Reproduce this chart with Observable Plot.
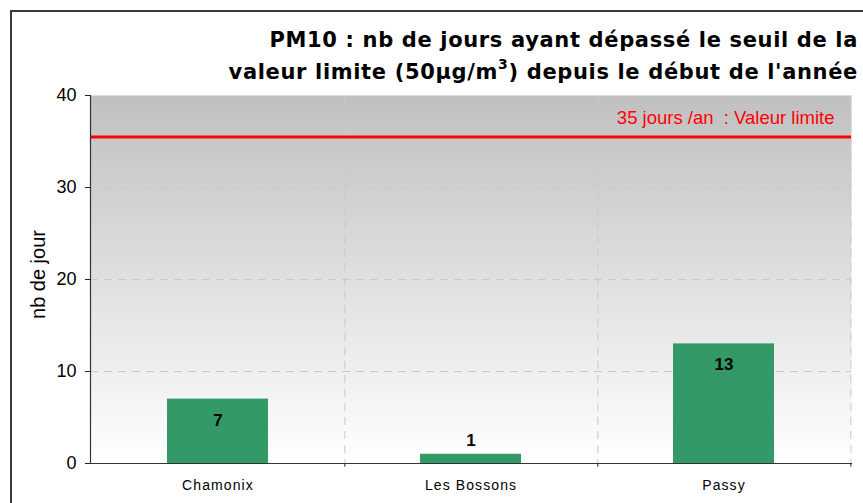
<!DOCTYPE html>
<html>
<head>
<meta charset="utf-8">
<script src="https://cdn.jsdelivr.net/npm/d3@7"></script>
<script src="https://cdn.jsdelivr.net/npm/@observablehq/plot@0.6"></script>
<style>
  html, body { margin: 0; padding: 0; background: #fff; }
  #wrap { position: relative; width: 863px; height: 503px; overflow: hidden; }
  #frame { position: absolute; left: 10px; top: 10px; width: 900px; height: 600px;
           border-left: 2px solid #3a3a3a; border-top: 2px solid #3a3a3a; box-sizing: border-box; }
  #title { position: absolute; right: 5px; top: 24px; text-align: right;
           font-family: "DejaVu Sans", sans-serif; font-weight: bold; letter-spacing: 0.65px;
           font-size: 21px; line-height: 32px; color: #000; white-space: nowrap; }
  #title sup { font-size: 14px; line-height: 0; vertical-align: 10px; }
  #chart { position: absolute; left: 0; top: 0; }
</style>
</head>
<body>
<div id="wrap">
  <div id="chart"></div>
  <div id="frame"></div>
  <div id="title">PM10 : nb de jours ayant dépassé le seuil de la<br>valeur limite (50µg/m<sup>3</sup>) depuis le début de l'année</div>
</div>
<script>
const categories = ["Chamonix", "Les Bossons", "Passy"];
const values = [7, 1, 13];
const yTicks = [0, 10, 20, 30, 40];
const limitValue = 35.5;
const limitLabel = "35 jours /an  : Valeur limite";
const yLabel = "nb de jour";

const data = categories.map((c, i) => ({ site: c, value: values[i] }));

const W = 863, H = 503, mL = 90, mR = 12, mT = 95, mB = 40;
const halfBand = (W - mL - mR) / categories.length / 2;

const chart = Plot.plot({
  width: W,
  height: H,
  marginLeft: mL,
  marginRight: mR,
  marginTop: mT,
  marginBottom: mB,
  style: { fontFamily: "'Liberation Sans', Arial, sans-serif", background: "transparent", overflow: "visible" },
  x: { domain: categories, paddingInner: 0.6, paddingOuter: 0.3, label: null },
  y: { domain: [0, 40], ticks: yTicks, label: null },
  marks: [
    Plot.frame({ fill: "url(#bggrad)", stroke: null }),
    Plot.ruleY(yTicks.filter(d => d > 0 && d < 40), { stroke: "#c8c8c8", strokeDasharray: "8,6", strokeWidth: 1 }),
    Plot.ruleX(categories, { x: d => d, dx: halfBand, stroke: "#c8c8c8", strokeDasharray: "8,6", strokeWidth: 1 }),
    Plot.ruleX(categories, { x: d => d, dx: halfBand, y1: 0, y2: -0.4, stroke: "#222", strokeWidth: 1, clip: false }),
    Plot.barY(data, { x: "site", y: "value", fill: "#339966" }),
    Plot.ruleY([limitValue], { stroke: "#ff0000", strokeWidth: 3 }),
    Plot.text([limitLabel], { frameAnchor: "top-right", dx: -17, dy: 15, text: d => d, fill: "#ff0000", fontSize: 18.5, textAnchor: "end" }),
    Plot.text(data.filter(d => d.value >= 3), { x: "site", y: "value", text: d => String(d.value), dy: 21, fontWeight: "bold", fontSize: 17, fill: "#000" }),
    Plot.text(data.filter(d => d.value < 3), { x: "site", y: "value", text: d => String(d.value), dy: -14, fontWeight: "bold", fontSize: 17, fill: "#000" }),
    Plot.axisY({ ticks: yTicks, tickSize: 5, tickPadding: 9, fontSize: 18, stroke: "#222", fill: "#000" }),
    Plot.axisX({ tickSize: 0, tickPadding: 17, fontSize: 14, fill: "#000" }),
    Plot.frame({ anchor: "left", stroke: "#333", strokeWidth: 1.2 }),
    Plot.frame({ anchor: "bottom", stroke: "#333", strokeWidth: 1.2 }),
    Plot.text([yLabel], { frameAnchor: "left", dx: -52, dy: -5, rotate: -90, textAnchor: "middle", text: d => d, fontSize: 20, fill: "#000" })
  ]
});

// gradient definition
const ns = "http://www.w3.org/2000/svg";
const defs = document.createElementNS(ns, "defs");
defs.innerHTML = '<linearGradient id="bggrad" x1="0" y1="0" x2="0" y2="1">' +
  '<stop offset="0" stop-color="#c0c0c0"/><stop offset="1" stop-color="#ffffff"/></linearGradient>';
chart.insertBefore(defs, chart.firstChild);
chart.querySelectorAll("[aria-label='x-axis tick label'] text").forEach(t => t.setAttribute("letter-spacing", "1.1"));
document.getElementById("chart").appendChild(chart);
</script>
</body>
</html>
